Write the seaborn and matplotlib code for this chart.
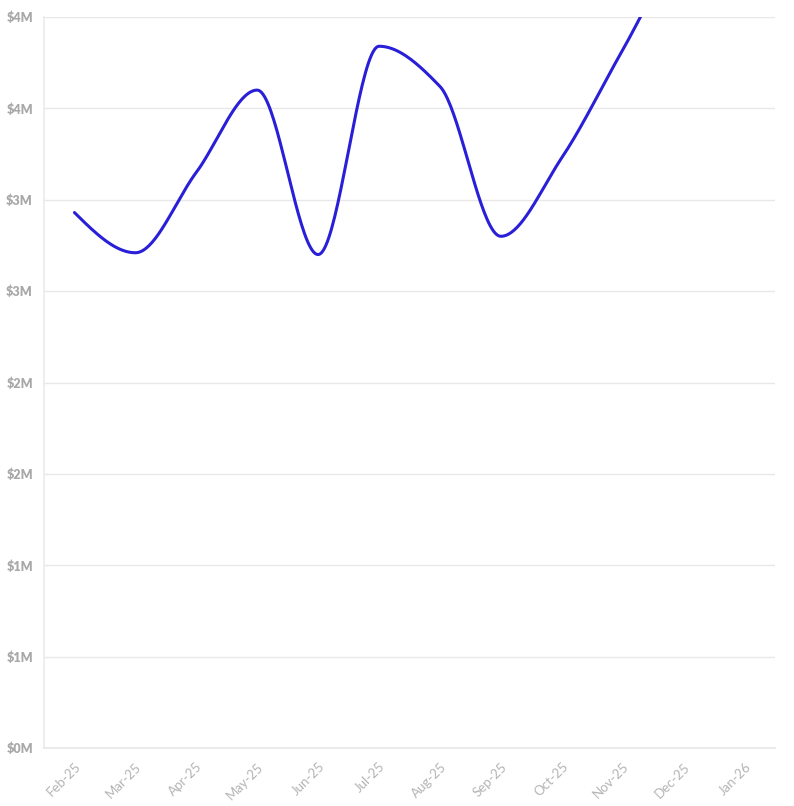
import numpy as np
import pandas as pd
import matplotlib
matplotlib.use("Agg")
import matplotlib.pyplot as plt
import seaborn as sns

months = ["Feb-25", "Mar-25", "Apr-25", "May-25", "Jun-25", "Jul-25",
          "Aug-25", "Sep-25", "Oct-25", "Nov-25", "Dec-25", "Jan-26"]
revenue = [2.93, 2.71, 3.15, 3.60, 2.70, 3.84, 3.62, 2.80, 3.23, 3.82, 4.40, 4.70]  # $M
y_ticks = [0, 0.5, 1.0, 1.5, 2.0, 2.5, 3.0, 3.5, 4.0]


def monotone_curve(x, y, n=40):
    """Fritsch-Carlson monotone cubic, like d3 curveMonotoneX."""
    x = np.asarray(x, float)
    y = np.asarray(y, float)
    h = np.diff(x)
    d = np.diff(y) / h
    m = np.zeros_like(y)
    for i in range(1, len(y) - 1):
        if d[i - 1] * d[i] <= 0:
            m[i] = 0
        else:
            m[i] = 3 * (h[i - 1] + h[i]) / ((2 * h[i] + h[i - 1]) / d[i - 1] + (h[i] + 2 * h[i - 1]) / d[i])
    # end tangents as in d3
    m[0] = (3 * d[0] - m[1]) / 2
    m[-1] = (3 * d[-1] - m[-2]) / 2
    xs, ys = [], []
    for i in range(len(x) - 1):
        t = np.linspace(0, 1, n, endpoint=False)
        h00 = 2 * t**3 - 3 * t**2 + 1
        h10 = t**3 - 2 * t**2 + t
        h01 = -2 * t**3 + 3 * t**2
        h11 = t**3 - t**2
        xs.append(x[i] + t * h[i])
        ys.append(h00 * y[i] + h10 * h[i] * m[i] + h01 * y[i + 1] + h11 * h[i] * m[i + 1])
    xs.append([x[-1]])
    ys.append([y[-1]])
    return np.concatenate(xs), np.concatenate(ys)


sns.set_theme(style="white")
plt.rcParams["font.family"] = ["Lato", "DejaVu Sans"]

pos = np.arange(len(months))
cx, cy = monotone_curve(pos, revenue)
df = pd.DataFrame({"x": cx, "y": cy})

fig = plt.figure(figsize=(7.94, 8.06), dpi=100)
ax = fig.add_axes([44 / 794, 1 - 748 / 806, 731 / 794, 731 / 806])

sns.lineplot(data=df, x="x", y="y", ax=ax, color="#2a1fd8", linewidth=2.2, sort=False)

ax.set_xlim(-0.5, len(months) - 0.5)
ax.set_ylim(0, 4.0)
ax.set_xticks(pos)
ax.set_xticklabels(months, rotation=45, ha="right", rotation_mode="anchor",
                   color="#b4b4b4", fontsize=9.5)
ax.set_yticks(y_ticks)
# labels round half up, like the source ($1M at 0.5M)
ax.set_yticklabels([f"${int(v + 0.5)}M" for v in y_ticks], color="#a8a8a8",
                   fontsize=9, fontweight="heavy")
ax.grid(axis="y", color="#e8e8e8", linewidth=1)
ax.set_axisbelow(True)
ax.set_xlabel("")
ax.set_ylabel("")
for side in ["top", "right"]:
    ax.spines[side].set_visible(False)
ax.spines["left"].set_color("#ececec")
ax.spines["bottom"].set_color("#e8e8e8")
ax.tick_params(axis="both", length=5, width=1, color="#e8e8e8", pad=3)
ax.tick_params(axis="x", pad=4)

fig.savefig("out.png", dpi=100)
